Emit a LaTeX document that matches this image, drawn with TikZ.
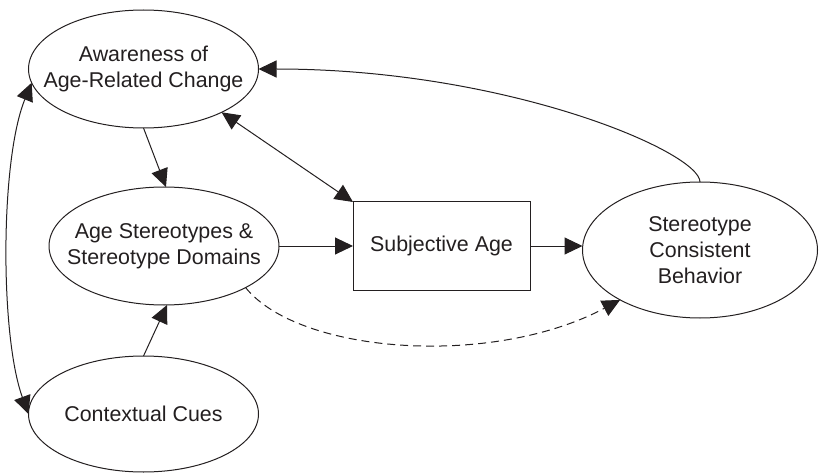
\documentclass[tikz,border=0pt]{standalone}
\usepackage{fontspec}
\setmainfont{Liberation Sans}
\usetikzlibrary{shapes.geometric,arrows.meta}
\definecolor{ink}{RGB}{35,31,32}
\begin{document}
\begin{tikzpicture}[x=1pt,y=-1pt,
  lbl/.style={align=center, font=\fontsize{21.4}{26}\selectfont, text=ink},
  oval/.style={ellipse, draw=ink, line width=1pt, inner sep=0pt, outer sep=0pt},
  box/.style={rectangle, draw=ink, line width=1pt, inner sep=0pt, outer sep=0pt,
    minimum width=177pt, minimum height=88pt, font=\fontsize{21.4}{26}\selectfont, text=ink},
  tip/.tip={Triangle[length=18pt,width=17pt]},
  conn/.style={draw=ink, line width=1pt, -tip},
  both/.style={draw=ink, line width=1pt, tip-tip},
  dashline/.style={conn, dash pattern=on 8pt off 5pt}
]
\useasboundingbox (0,0) rectangle (819,473);

\node[oval, minimum width=230pt, minimum height=118pt,
  label={[lbl]center:Awareness of\\Age-Related Change}] (aw) at (143.5,69) {};
\node[oval, minimum width=230pt, minimum height=118pt,
  label={[lbl]center:Age Stereotypes \&\\Stereotype Domains}] (as) at (164,246) {};
\node[oval, minimum width=230pt, minimum height=116pt,
  label={[lbl]center:Contextual Cues}] (cc) at (143.5,414) {};
\node[box] (sa) at (441.5,246) {Subjective Age};
\node[oval, minimum width=235pt, minimum height=136pt,
  label={[lbl]center:Stereotype\\Consistent\\Behavior}] (scb) at (700,250) {};

\draw[conn] (aw.south) -- ([xshift=2pt]as.north);
\draw[conn] (cc.north) -- ([xshift=3pt]as.south);
\draw[both] (aw.-29) -- (sa.north west);
\draw[conn] (as.east) -- (sa.west);
\draw[conn] (sa.east) -- (sa.east -| scb.west);
\draw[conn] (scb.north) .. controls (700,152) and (507,69) .. (aw.east);
\draw[dashline] (as.-27) .. controls (299,354) and (492,368) .. (scb.-148);
\draw[both] (aw.187) .. controls (0,160) and (0,336) .. (cc.west);
\end{tikzpicture}
\end{document}
